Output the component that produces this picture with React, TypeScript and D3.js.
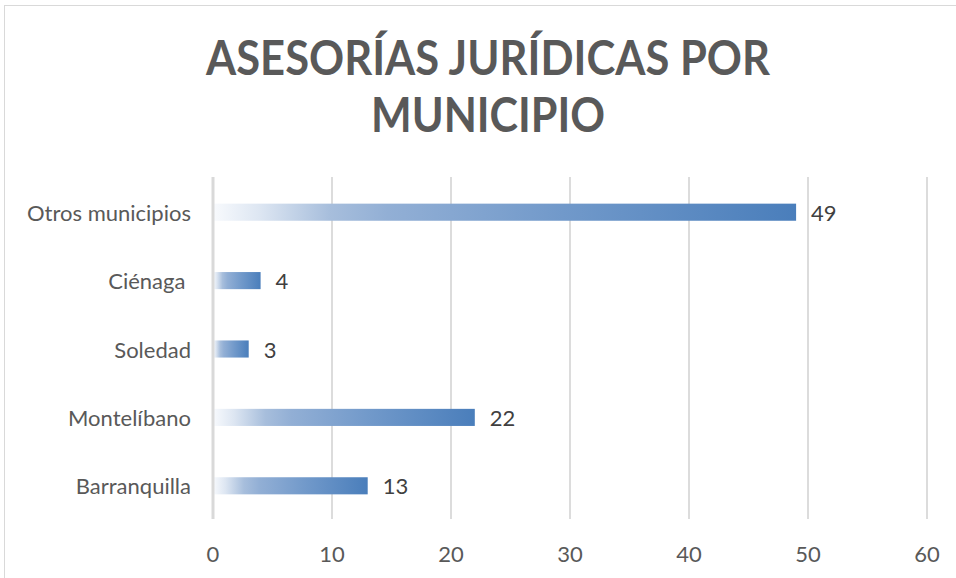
import React from 'react';
import * as d3 from 'd3';

// chart data
const categories = ['Otros municipios', 'Ciénaga ', 'Soledad', 'Montelíbano', 'Barranquilla'];
const values = [49, 4, 3, 22, 13];
const ticks = [0, 10, 20, 30, 40, 50, 60];
const titleLines = ['ASESORÍAS JURÍDICAS POR', 'MUNICIPIO'];

const W = 956;
const H = 578;
const FONT = 'Lato, "Open Sans", sans-serif';

const App = () => {
  const x = d3.scaleLinear().domain([0, 60]).range([213, 927]);
  const y = d3.scaleBand<string>()
    .domain(categories)
    .range([178, 520])
    .paddingInner(0.75)
    .paddingOuter(0.375);

  const x0 = x(0);

  return (
    <svg width={W} height={H} viewBox={`0 0 ${W} ${H}`}
      style={{ position: 'absolute', left: 0, top: 0, background: '#fff' }}>
      <defs>
        <linearGradient id="barGrad" x1="0" y1="0" x2="1" y2="0">
          <stop offset="0" stopColor="#F8FAFD" />
          <stop offset="0.08" stopColor="#DDE6F2" />
          <stop offset="0.2" stopColor="#A7BEDC" />
          <stop offset="0.3" stopColor="#92AFD5" />
          <stop offset="0.6" stopColor="#7199CA" />
          <stop offset="1" stopColor="#4A7EBB" />
        </linearGradient>
      </defs>

      {/* chart area border (right/bottom edges fall outside the frame) */}
      <rect x={4.5} y={5.5} width={1000} height={700} fill="#fff" stroke="#D9D9D9" strokeWidth={1} />

      {/* title */}
      <g fontFamily={FONT} fontWeight="bold" fill="#595959" fontSize={47} textAnchor="middle">
        <text x={488} y={75} textLength={564} lengthAdjust="spacingAndGlyphs">{titleLines[0]}</text>
        <text x={488} y={132} textLength={234} lengthAdjust="spacingAndGlyphs">{titleLines[1]}</text>
      </g>

      {/* gridlines */}
      {ticks.filter(t => t !== 0).map(t => (
        <line key={t} x1={x(t)} x2={x(t)} y1={177} y2={519} stroke="#D0D0D0" strokeWidth={1.5} />
      ))}

      {/* bars */}
      {categories.map((c, i) => (
        <rect key={c}
          x={x0}
          y={y(c)}
          width={x(values[i]) - x0}
          height={y.bandwidth()}
          fill="url(#barGrad)" />
      ))}

      {/* zero axis */}
      <line x1={x0} x2={x0} y1={177} y2={519} stroke="#D9D9D9" strokeWidth={3} />

      {/* value labels */}
      <g fontFamily={FONT} fontSize={22} fill="#404040">
        {categories.map((c, i) => (
          <text key={c} x={x(values[i]) + 15} y={(y(c) ?? 0) + y.bandwidth() / 2}
            dominantBaseline="central">{values[i]}</text>
        ))}
      </g>

      {/* category labels */}
      <g fontFamily={FONT} fontSize={22} fill="#595959" textAnchor="end">
        {categories.map(c => (
          <text key={c} x={x0 - 22} y={(y(c) ?? 0) + y.bandwidth() / 2}
            dominantBaseline="central" style={{ whiteSpace: 'pre' }}>{c}</text>
        ))}
      </g>

      {/* x tick labels */}
      <g fontFamily={FONT} fontSize={22} fill="#595959" textAnchor="middle">
        {ticks.map(t => (
          <text key={t} x={x(t)} y={553} dominantBaseline="central">{t}</text>
        ))}
      </g>
    </svg>
  );
};

export default App;
